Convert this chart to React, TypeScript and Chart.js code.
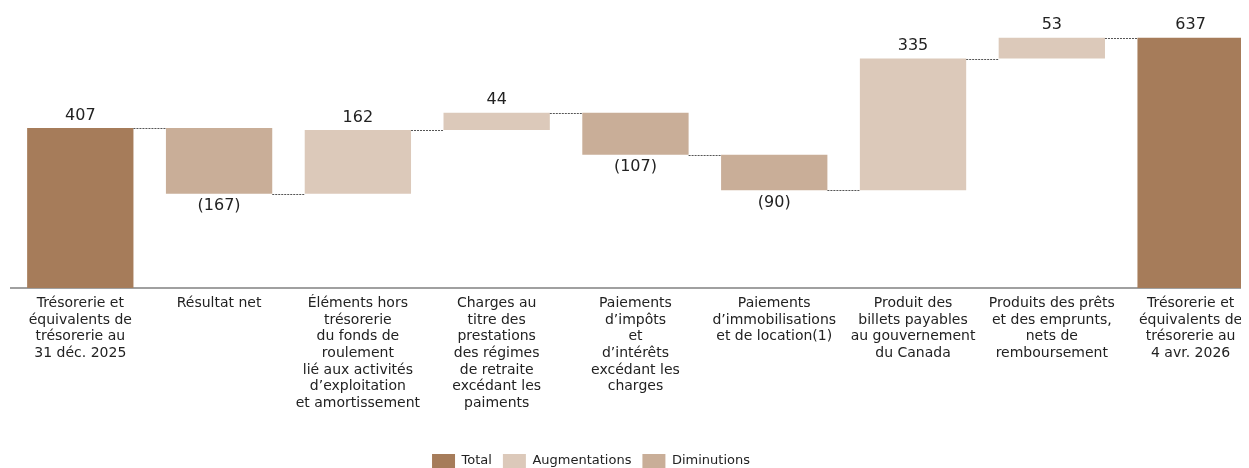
import React, { useEffect, useRef } from "react";
import { Chart, registerables } from "chart.js";

Chart.register(...registerables);

const categories: string[][] = [
  ["Trésorerie et", "équivalents de", "trésorerie au", "31 déc. 2025"],
  ["Résultat net"],
  ["Éléments hors", "trésorerie", "du fonds de", "roulement", "lié aux activités", "d’exploitation", "et amortissement"],
  ["Charges au", "titre des", "prestations", "des régimes", "de retraite", "excédant les", "paiments"],
  ["Paiements", "d’impôts", "et", "d’intérêts", "excédant les", "charges"],
  ["Paiements", "d’immobilisations", "et de location(1)"],
  ["Produit des", "billets payables", "au gouvernement", "du Canada"],
  ["Produits des prêts", "et des emprunts,", "nets de", "remboursement"],
  ["Trésorerie et", "équivalents de", "trésorerie au", "4 avr. 2026"],
];

const values = [407, -167, 162, 44, -107, -90, 335, 53, 637];
const kinds = ["total", "dec", "inc", "inc", "dec", "dec", "inc", "inc", "total"];
const valueLabels = ["407", "(167)", "162", "44", "(107)", "(90)", "335", "53", "637"];

const seriesKeys = ["total", "inc", "dec"];
const seriesNames = ["Total", "Augmentations", "Diminutions"];
const seriesColors = ["#A67C5A", "#DCC9BA", "#C9AE98"];

const FONT = "'DejaVu Sans', sans-serif";

export default function App() {
  const ref = useRef<HTMLCanvasElement | null>(null);

  useEffect(() => {
    if (!ref.current) return;

    // running totals -> floating ranges
    let run = 0;
    const ranges: [number, number][] = [];
    const ends: number[] = [];
    values.forEach((v, i) => {
      if (kinds[i] === "total") {
        run = v;
        ranges.push([0, v]);
      } else {
        const s = run;
        run += v;
        ranges.push([Math.min(s, run), Math.max(s, run)]);
      }
      ends.push(run);
    });

    const datasets = seriesKeys.map((k, si) => ({
      label: seriesNames[si],
      data: ranges.map((r, i) => (kinds[i] === k ? r : null)),
      backgroundColor: seriesColors[si],
      borderWidth: 0,
      grouped: false,
      categoryPercentage: 1,
      barPercentage: 0.766,
    }));

    const waterfallPlugin = {
      id: "waterfallExtras",
      afterDatasetsDraw(chart: any) {
        const ctx = chart.ctx;
        const yScale = chart.scales.y;
        const bars = categories.map((_, i) => {
          const di = seriesKeys.indexOf(kinds[i]);
          return chart.getDatasetMeta(di).data[i].getProps(["x", "y", "base", "width"], true);
        });
        ctx.save();
        ctx.strokeStyle = "#555555";
        ctx.lineWidth = 1;
        ctx.setLineDash([2, 1]);
        for (let i = 0; i < bars.length - 1; i++) {
          const py = Math.round(yScale.getPixelForValue(ends[i])) + 0.5;
          const x1 = bars[i].x + bars[i].width / 2;
          const x2 = bars[i + 1].x - bars[i + 1].width / 2;
          ctx.beginPath();
          ctx.moveTo(x1, py);
          ctx.lineTo(x2, py);
          ctx.stroke();
        }
        ctx.setLineDash([]);
        ctx.fillStyle = "#222222";
        ctx.font = `16px ${FONT}`;
        ctx.textAlign = "center";
        ctx.textBaseline = "middle";
        bars.forEach((b: any, i: number) => {
          const top = Math.min(b.y, b.base);
          const bottom = Math.max(b.y, b.base);
          const ty = kinds[i] === "dec" ? bottom + 12.5 : top - 12.5;
          ctx.fillText(valueLabels[i], b.x, ty);
        });
        ctx.restore();
      },
    };

    const chart = new Chart(ref.current, {
      type: "bar",
      data: { labels: categories, datasets },
      options: {
        responsive: false,
        animation: false,
        layout: { padding: { top: 13, right: 0, bottom: 0, left: 0 } },
        plugins: {
          legend: {
            position: "bottom",
            labels: {
              color: "#222222",
              font: { family: FONT, size: 13 },
              boxWidth: 23,
              boxHeight: 14,
              padding: 11,
            },
          },
          tooltip: { enabled: false },
        },
        scales: {
          x: {
            grid: { display: false, drawTicks: false },
            border: { display: true, color: "#a0a0a0", width: 2 },
            ticks: {
              color: "#222222",
              font: { family: FONT, size: 14, lineHeight: 1.19 },
              padding: 7,
              maxRotation: 0,
              autoSkip: false,
            },
            afterFit: (s: any) => {
              s.height = 155;
            },
          },
          y: {
            min: 0,
            max: 700,
            display: true,
            grid: { display: false },
            border: { display: false },
            ticks: { display: false },
            afterFit: (s: any) => {
              s.width = 88.9;
            },
          },
        },
      },
      plugins: [waterfallPlugin],
    });

    return () => chart.destroy();
  }, []);

  return (
    <div style={{ position: "relative", width: 1233, height: 460 }}>
      <div
        style={{
          position: "absolute",
          left: -8,
          top: -8,
          width: 1249,
          height: 468,
          overflow: "hidden",
        }}
      >
        <canvas
          ref={ref}
          width={1338}
          height={478}
          style={{ display: "block", position: "absolute", left: -78, top: 0 }}
        />
      </div>
    </div>
  );
}
